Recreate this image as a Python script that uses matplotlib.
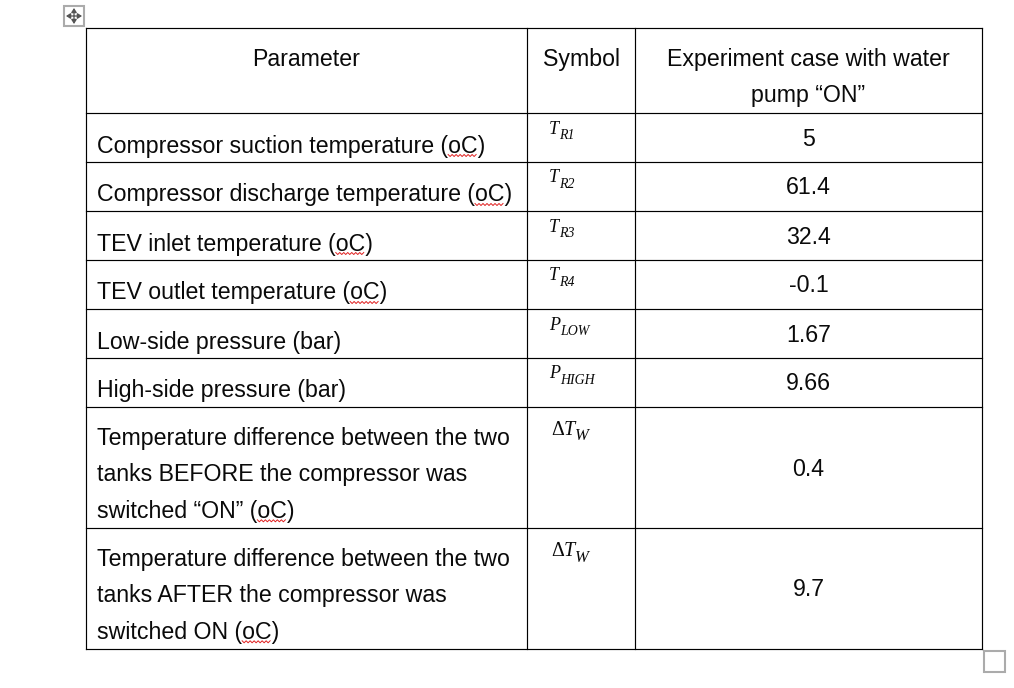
import matplotlib
matplotlib.use("Agg")
import matplotlib.pyplot as plt
from matplotlib.patches import Rectangle

plt.rcParams['font.family'] = ['Liberation Sans', 'DejaVu Sans']

# table content
headers = ["Parameter", "Symbol", "Experiment case with water\npump \u201cON\u201d"]
parameters = [
    "Compressor suction temperature (oC)",
    "Compressor discharge temperature (oC)",
    "TEV inlet temperature (oC)",
    "TEV outlet temperature (oC)",
    "Low-side pressure (bar)",
    "High-side pressure (bar)",
    "Temperature difference between the two\ntanks BEFORE the compressor was\nswitched \u201cON\u201d (oC)",
    "Temperature difference between the two\ntanks AFTER the compressor was\nswitched ON (oC)",
]
symbol_base = ["T", "T", "T", "T", "P", "P", "\u0394T", "\u0394T"]
symbol_sub = ["R1", "R2", "R3", "R4", "LOW", "HIGH", "W", "W"]
values = ["5", "61.4", "32.4", "-0.1", "1.67", "9.66", "0.4", "9.7"]

# grid lines in pixels
col_x = [86, 527, 635, 982]
row_y = [28, 113, 162, 211, 260, 309, 358, 407, 528, 649]

W, H = 1014, 688
FS = 16.7
LINE = 36.4
TEXT_COL = "#0a0a0a"

fig = plt.figure(figsize=(W / 100, H / 100), dpi=100)
ax = fig.add_axes([0, 0, 1, 1])
ax.set_xlim(0, W)
ax.set_ylim(H, 0)
ax.axis("off")

for x in col_x:
    ax.plot([x, x], [row_y[0], row_y[-1]], color="black", lw=0.85, solid_capstyle="projecting")
for y in row_y:
    ax.plot([col_x[0], col_x[-1]], [y, y], color="black", lw=0.85, solid_capstyle="projecting")

renderer = fig.canvas.get_renderer()


def text_width(s, **kw):
    probe = ax.text(0, 0, s, **kw)
    w = probe.get_window_extent(renderer).width
    probe.remove()
    return w


def put_lines(x, y, s, ha):
    out = []
    for i, line in enumerate(s.split("\n")):
        out.append(ax.text(x, y + i * LINE, line, fontsize=FS, ha=ha, va="baseline", color=TEXT_COL))
    return out


def squiggle(t):
    # red spell-check underline below the "oC" part
    s = t.get_text()
    start = t.get_position()[0] + text_width(s[:s.index("oC")], fontsize=FS)
    end = start + text_width("oC", fontsize=FS)
    base = t.get_position()[1] + 2
    xs, ys = [], []
    x = start
    up = True
    while x <= end:
        xs.append(x)
        ys.append(base + (0 if up else 2))
        up = not up
        x += 2
    ax.plot(xs, ys, color="#e02020", lw=0.7)


def put_symbol(x, y, base, sub):
    # serif italic symbol, written out by hand so the subscript digits stay italic
    serif = dict(family="Liberation Serif", color=TEXT_COL, va="baseline", ha="left")
    size, sub_size = 13, 10
    if base.startswith("\u0394"):
        size, sub_size = 14.5, 12
        ax.text(x, y, "\u0394", fontsize=size, **serif)
        x += text_width("\u0394", fontsize=size, family="Liberation Serif")
        base = base[1:]
    ax.text(x, y, base, fontsize=size, style="italic", **serif)
    x += text_width(base, fontsize=size, style="italic", family="Liberation Serif")
    ax.text(x, y + 5.5, sub, fontsize=sub_size, style="italic", **serif)


# header
put_lines((col_x[0] + col_x[1]) / 2, 66, headers[0], "center")
put_lines((col_x[1] + col_x[2]) / 2, 66, headers[1], "center")
put_lines((col_x[2] + col_x[3]) / 2, 65.7, headers[2], "center")

for i in range(len(parameters)):
    top, bottom = row_y[i + 1], row_y[i + 2]
    first = top + (38 if "\n" in parameters[i] else 39.5)
    for t in put_lines(col_x[0] + 11, first, parameters[i], "left"):
        if "oC" in t.get_text():
            squiggle(t)
    if i < 6:
        put_symbol(col_x[1] + 22, top + 20.5, symbol_base[i], symbol_sub[i])
    else:
        put_symbol(col_x[1] + 24, top + 28, symbol_base[i], symbol_sub[i])
    ax.text((col_x[2] + col_x[3]) / 2, (top + bottom) / 2 + 8, values[i], fontsize=FS, ha="center", va="baseline", color=TEXT_COL)

# word table handles
ax.add_patch(Rectangle((64, 6), 20, 20, fill=False, ec="#ababab", lw=1.5))
ax.add_patch(Rectangle((984, 651), 21, 21, fill=False, ec="#ababab", lw=1.5))
cx, cy = 74, 16
for dx, dy in [(-8, 0), (8, 0), (0, -8), (0, 8)]:
    ax.annotate("", xy=(cx + dx, cy + dy), xytext=(cx, cy),
                arrowprops=dict(arrowstyle="-|>,head_width=0.16,head_length=0.25", color="#555555", lw=0.9, shrinkA=0, shrinkB=0))

fig.savefig("out.png", dpi=100, facecolor="white")
